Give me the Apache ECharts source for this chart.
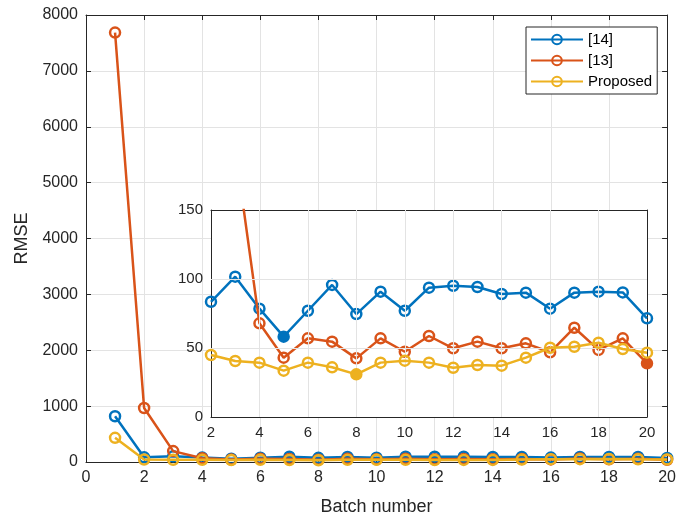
<!DOCTYPE html>
<html><head><meta charset="utf-8">
<script src="https://cdn.jsdelivr.net/npm/echarts@6/dist/echarts.min.js"></script>
<style>
html,body{margin:0;padding:0;background:#fff}
#c{position:absolute;left:0;top:0;width:679px;height:521px;z-index:0}
#bg{position:absolute;left:211px;top:210px;width:436px;height:207px;background:#fff;z-index:1}
#inset{position:absolute;left:150px;top:195px;width:520px;height:260px;z-index:2}
</style>
</head><body><div id="c"></div><div id="bg"></div><div id="inset"></div>
<script>
// ---- data ----
const batches = [1,2,3,4,5,6,7,8,9,10,11,12,13,14,15,16,17,18,19,20];
const rmse14 = [818, 83.5, 101.7, 78.5, 58.2, 77, 95.7, 74.6, 90.8, 77, 93.7, 95.1, 94.2, 89.1, 90.1, 78.5, 90.1, 90.8, 90.3, 71.5];
const rmse13 = [7686, 966, 195, 67.9, 43, 57, 54.6, 42.5, 57, 47.3, 58.7, 49.8, 54.6, 49.8, 53.4, 46.9, 64.7, 48.6, 57, 38.9];
const rmseProposed = [432, 44.9, 40.6, 39.4, 33.6, 39.4, 36, 30.9, 39.4, 40.8, 39.4, 35.7, 37.7, 37.2, 43, 50.2, 50.9, 53.8, 49.3, 46.6];
const seriesNames = ['[14]', '[13]', 'Proposed'];
const filledBatch = [5, 20, 8]; // batch whose marker is filled in the inset, per series
const insetXGrid = [4, 6, 8, 10, 12, 14, 16, 18];
const insetYGrid = [50, 100];
const xLabelMain = 'Batch number';
const yLabelMain = 'RMSE';

// ---- styling ----
const colors = ['#0072BD', '#D95319', '#EDB120'];
const axisColor = '#262626';
const gridColor = '#e3e3e3';
const font = 'Liberation Sans, Arial, Helvetica, sans-serif';
const allValues = [rmse14, rmse13, rmseProposed];

function mkAxis(pos, min, max, interval, opts) {
  const a = {
    type: 'value', position: pos, min, max, interval,
    axisLine: { show: true, onZero: false, lineStyle: { color: axisColor, width: 1 } },
    axisTick: { show: true, inside: true, length: 5, lineStyle: { color: axisColor } },
    axisLabel: { show: !!opts.label, color: axisColor, fontSize: opts.fs || 16, fontFamily: font, margin: 8,
                 formatter: v => String(v) },
    splitLine: { show: !!opts.split, lineStyle: { color: gridColor, width: 1 } }
  };
  if (opts.name) {
    a.name = opts.name; a.nameLocation = 'middle'; a.nameGap = opts.nameGap;
    a.nameTextStyle = { color: axisColor, fontSize: 18, fontFamily: font };
  }
  return a;
}

function mkSeries(i, insetMode) {
  const vals = allValues[i];
  let data = batches.map((b, k) => [b, vals[k]]);
  if (insetMode) {
    data = data.filter(d => d[0] >= 2).map(d =>
      d[0] === filledBatch[i] ? { value: d, itemStyle: { color: colors[i], borderColor: colors[i] } } : d);
  }
  return {
    type: 'line', name: seriesNames[i], symbol: 'circle', symbolSize: 10, clip: true, z: 3 + i,
    lineStyle: { color: colors[i], width: 2.5 },
    itemStyle: { color: 'rgba(255,255,255,0)', borderColor: colors[i], borderWidth: 2.5 },
    emphasis: { disabled: true }, animation: false, data
  };
}

const main = echarts.init(document.getElementById('c'), null, { renderer: 'canvas' });
main.setOption({
  animation: false,
  backgroundColor: '#fff',
  textStyle: { fontFamily: font },
  grid: { left: 86, right: 9, top: 15, bottom: 56 },
  legend: {
    data: seriesNames, orient: 'vertical', left: 526, top: 27,
    itemWidth: 52, itemHeight: 12, itemGap: 6, selectedMode: false,
    padding: [5, 5, 5, 4], backgroundColor: '#fff', borderColor: axisColor, borderWidth: 1,
    textStyle: { color: '#000', fontSize: 15, fontFamily: font }
  },
  xAxis: [
    mkAxis('bottom', 0, 20, 2, { label: true, split: true, name: xLabelMain, nameGap: 36 }),
    mkAxis('top', 0, 20, 2, {})
  ],
  yAxis: [
    mkAxis('left', 0, 8000, 1000, { label: true, split: true, name: yLabelMain, nameGap: 51 }),
    mkAxis('right', 0, 8000, 1000, {})
  ],
  series: [0, 1, 2].map(i => mkSeries(i, false))
});

// inset grid lines drawn as mark lines on a hidden helper series (beneath the data)
const gridHelper = {
  type: 'line', name: 'grid', z: 1, silent: true, animation: false, showSymbol: false,
  lineStyle: { opacity: 0, width: 0 }, emphasis: { disabled: true },
  data: batches.map((b, k) => [b, rmse14[k]]),
  markLine: {
    silent: true, animation: false, symbol: ['none', 'none'], label: { show: false },
    emphasis: { disabled: true },
    lineStyle: { color: gridColor, type: 'solid', width: 1 },
    data: insetXGrid.map(v => ({ xAxis: v })).concat(insetYGrid.map(v => ({ yAxis: v })))
  }
};

const inset = echarts.init(document.getElementById('inset'), null, { renderer: 'canvas' });
inset.setOption({
  animation: false,
  textStyle: { fontFamily: font },
  grid: { left: 61, top: 15, width: 436, height: 207 },
  xAxis: [
    mkAxis('bottom', 2, 20, 2, { label: true, split: true, fs: 15 }),
    mkAxis('top', 2, 20, 2, {})
  ],
  yAxis: [
    mkAxis('left', 0, 150, 50, { label: true, split: true, fs: 15 }),
    mkAxis('right', 0, 150, 50, {})
  ],
  series: [gridHelper].concat([0, 1, 2].map(i => mkSeries(i, true)))
});
</script></body></html>
